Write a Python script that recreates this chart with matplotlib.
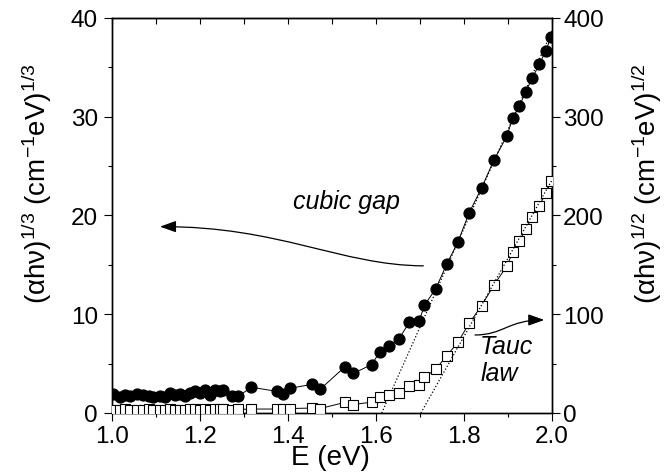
import numpy as np
import matplotlib
matplotlib.use("Agg")
import matplotlib.pyplot as plt
from matplotlib.ticker import MultipleLocator
from matplotlib.patches import FancyArrowPatch
from matplotlib.path import Path

plt.rcParams['font.family'] = ['Liberation Sans', 'DejaVu Sans']
plt.rcParams['mathtext.fontset'] = 'custom'
plt.rcParams['mathtext.rm'] = 'Liberation Sans'
plt.rcParams['mathtext.it'] = 'Liberation Sans:italic'

# photon energy (eV)
energy = [1.003, 1.018, 1.030, 1.041, 1.056, 1.071, 1.083, 1.094, 1.109, 1.120,
          1.132, 1.143, 1.155, 1.166, 1.177, 1.189, 1.200, 1.211, 1.223, 1.234,
          1.245, 1.253, 1.272, 1.287, 1.317, 1.374, 1.389, 1.405, 1.454, 1.473,
          1.530, 1.548, 1.590, 1.609, 1.630, 1.652, 1.676, 1.698, 1.710, 1.736,
          1.761, 1.786, 1.812, 1.840, 1.868, 1.897, 1.911, 1.926, 1.940, 1.955,
          1.971, 1.986, 1.998]

# (alpha h nu)^(1/3)
cubic = [1.9, 1.6, 1.8, 1.7, 1.9, 1.8, 1.7, 1.6, 1.7, 1.6,
         2.0, 1.8, 1.9, 1.7, 2.0, 2.2, 2.0, 2.3, 1.8, 2.3,
         2.2, 2.3, 1.7, 1.7, 2.6, 2.2, 1.9, 2.5, 2.9, 2.4,
         4.7, 4.0, 4.9, 6.2, 6.8, 7.5, 9.2, 9.3, 10.9, 12.6,
         15.1, 17.3, 20.3, 22.8, 25.6, 28.0, 29.9, 31.1, 32.5, 33.9,
         35.3, 36.7, 38.1]

# (alpha h nu)^(1/2)
tauc = [3.5, 3.2, 3.6, 3.4, 3.5, 3.3, 3.6, 3.2, 3.4, 3.5,
        3.6, 3.3, 3.5, 3.4, 3.6, 3.7, 3.5, 3.8, 3.4, 3.7,
        3.6, 3.8, 3.5, 3.6, 4.0, 4.0, 4.0, 4.5, 5.0, 4.5,
        10.8, 8.5, 11.0, 16.0, 17.8, 20.5, 27.7, 28.4, 36.0, 44.6,
        58.0, 71.6, 91.0, 108.7, 129.6, 148.5, 163.0, 174.0, 186.3, 198.0,
        210.0, 222.5, 235.0]

# linear extrapolations to the absorption edge
cubic_fit_E = [1.613, 2.0]
cubic_fit_y = [0.0, 38.7]
tauc_fit_E = [1.702, 2.0]
tauc_fit_y = [0.0, 236.0]

fig = plt.figure(figsize=(6.67, 4.77), dpi=100)
ax = fig.add_axes([0.1679, 0.1321, 0.6597, 0.8281])
ax2 = ax.twinx()

ax.plot(energy, cubic, '-', color='k', lw=0.7, marker='o', ms=7.8,
        mfc='k', mec='k', zorder=3)
ax.plot(cubic_fit_E, cubic_fit_y, ':', color='k', lw=0.9, zorder=4)

ax2.plot(energy, tauc, '-', color='k', lw=0.7, marker='s', ms=6.6,
         mfc='white', mec='k', mew=0.8, zorder=3)
ax2.plot(tauc_fit_E, tauc_fit_y, ':', color='k', lw=0.9, zorder=4)

ax.set_xlim(1.0, 2.0)
ax.set_ylim(0, 40)
ax2.set_ylim(0, 400)

ax.xaxis.set_major_locator(MultipleLocator(0.2))
ax.xaxis.set_minor_locator(MultipleLocator(0.1))
ax.yaxis.set_major_locator(MultipleLocator(10))
ax.yaxis.set_minor_locator(MultipleLocator(5))
ax2.yaxis.set_major_locator(MultipleLocator(100))
ax2.yaxis.set_minor_locator(MultipleLocator(50))

ax.tick_params(axis='x', which='both', direction='out', top=False, width=0.8)
ax.tick_params(axis='x', which='major', length=6, pad=3, labelsize=17.5)
ax.tick_params(axis='x', which='minor', length=3)
ax.tick_params(axis='y', which='both', direction='out', right=False, width=0.8)
ax.tick_params(axis='y', which='major', length=6, pad=4, labelsize=17.5)
ax.tick_params(axis='y', which='minor', length=3)
ax2.tick_params(axis='y', which='both', direction='out', width=0.8)
ax2.tick_params(axis='y', which='major', length=6, pad=2, labelsize=17.5)
ax2.tick_params(axis='y', which='minor', length=3)

top = ax.secondary_xaxis('top')
top.xaxis.set_major_locator(MultipleLocator(0.1))
top.tick_params(direction='in', length=4, width=0.8, labeltop=False)

for a in (ax, ax2):
    for s in a.spines.values():
        s.set_linewidth(1.0)

fig.text(0.496, 0.040, 'E (eV)', fontsize=20, ha='center', va='center')
fig.text(0.055, 0.615, '(αhν)$^{1/3}$ (cm$^{-1}$eV)$^{1/3}$', fontsize=20,
         rotation=90, ha='center', va='center')
fig.text(0.970, 0.615, '(αhν)$^{1/2}$ (cm$^{-1}$eV)$^{1/2}$', fontsize=20,
         rotation=90, ha='center', va='center')

ax.text(1.412, 21.5, 'cubic gap', fontsize=18, style='italic',
        ha='left', va='center')
ax2.text(1.8366, 54.5, 'Tauc\nlaw', fontsize=18, style='italic',
         ha='left', va='center', linespacing=1.15)

# curved pointer arrows
cubic_arrow = Path([(1.7075, 14.9), (1.52, 14.95), (1.38, 18.9), (1.109, 18.87)],
                   [Path.MOVETO, Path.CURVE4, Path.CURVE4, Path.CURVE4])
ax.add_patch(FancyArrowPatch(path=cubic_arrow, transform=ax.transData,
                             arrowstyle='-|>,head_length=0.7,head_width=0.25',
                             mutation_scale=14, lw=0.9, color='k'))
tauc_arrow = Path([(1.825, 79.0), (1.89, 79.0), (1.90, 94.2), (1.9825, 94.2)],
                  [Path.MOVETO, Path.CURVE4, Path.CURVE4, Path.CURVE4])
ax2.add_patch(FancyArrowPatch(path=tauc_arrow, transform=ax2.transData,
                              arrowstyle='-|>,head_length=0.7,head_width=0.25',
                              mutation_scale=14, lw=0.9, color='k'))

fig.savefig('out.png', dpi=100)
